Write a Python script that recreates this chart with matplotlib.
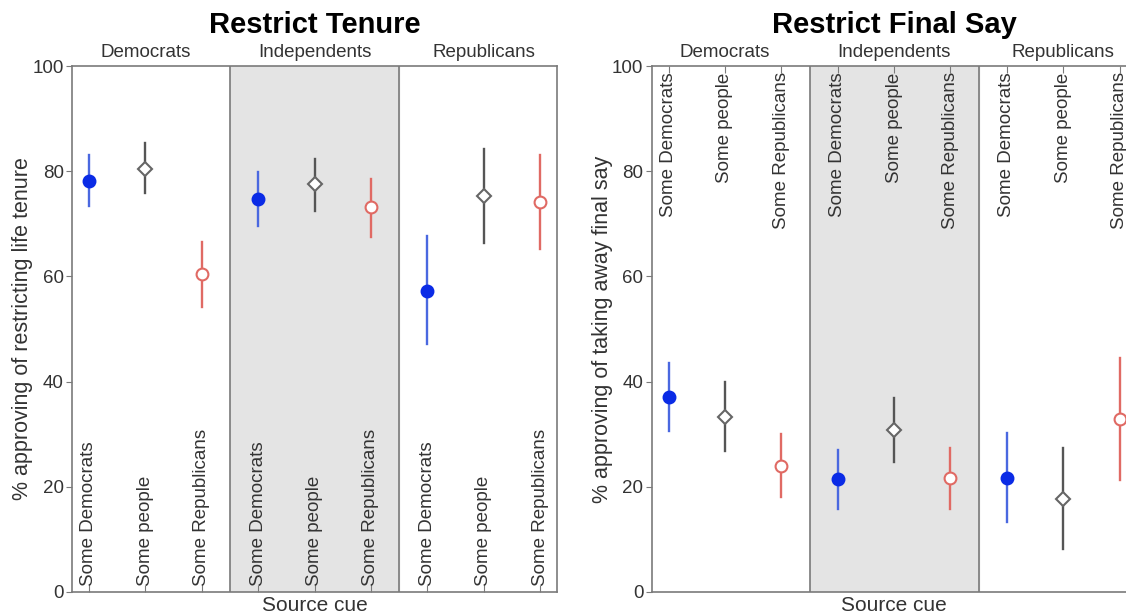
import matplotlib.pyplot as plt
from matplotlib.transforms import blended_transform_factory

plt.rcParams['font.family'] = ['Liberation Sans', 'DejaVu Sans']

groups = ["Democrats", "Independents", "Republicans"]
cues = ["Some Democrats", "Some people", "Some Republicans"]

# Restrict Tenure: estimate, lower CI, upper CI (order: group x cue)
tenure_mean = [78.1, 80.5, 60.4, 74.8, 77.5, 73.1, 57.3, 75.3, 74.2]
tenure_lo = [73.3, 75.8, 54.2, 69.6, 72.4, 67.4, 47.1, 66.4, 65.3]
tenure_hi = [83.0, 85.3, 66.6, 79.9, 82.3, 78.6, 67.7, 84.2, 83.1]

# Restrict Final Say
final_mean = [37.0, 33.3, 24.0, 21.4, 30.8, 21.6, 21.7, 17.7, 32.9]
final_lo = [30.6, 26.8, 18.0, 15.8, 24.7, 15.8, 13.3, 8.2, 21.2]
final_hi = [43.6, 39.9, 30.0, 27.0, 36.9, 27.4, 30.3, 27.4, 44.5]

styles = {
    "Some Democrats": dict(marker='o', mfc='#0a2be6', mec='#0a2be6', bar='#4a68e0'),
    "Some people": dict(marker='D', mfc='white', mec='#666666', bar='#555555'),
    "Some Republicans": dict(marker='o', mfc='white', mec='#e06a64', bar='#e06a64'),
}
spine_col = '#7a7a7a'
text_col = '#333333'


def draw_panel(ax, means, lo, hi, title, ylabel, labels_top):
    ax.set_xlim(-0.3, 8.3)
    ax.set_ylim(0, 100)
    ax.axvspan(2.5, 5.5, color='#e4e4e4', zorder=0)
    ax.axvline(2.5, color=spine_col, lw=1.2, zorder=1)
    ax.axvline(5.5, color=spine_col, lw=1.2, zorder=1)
    for i in range(9):
        st = styles[cues[i % 3]]
        ms = 7.5 if st['marker'] == 'D' else 8.5
        ax.plot([i, i], [lo[i], hi[i]], color=st['bar'], lw=1.7, zorder=2)
        ax.plot(i, means[i], marker=st['marker'], ms=ms, mfc=st['mfc'],
                mec=st['mec'], mew=1.5, zorder=3, linestyle='none')
    trans = blended_transform_factory(ax.transData, ax.transAxes)
    for i in range(9):
        if labels_top:
            ax.text(i, 0.988, cues[i % 3], rotation=90, ha='center', va='top',
                    fontsize=13.5, color=text_col, transform=trans)
        else:
            ax.text(i, 0.012, cues[i % 3], rotation=90, ha='center', va='bottom',
                    fontsize=13.5, color=text_col, transform=trans)
    for g, name in enumerate(groups):
        ax.text(3 * g + 1, 1.026, name, ha='center', va='center', fontsize=13.5,
                color=text_col, transform=trans)
    ax.text(0.5, 1.078, title, ha='center', va='center', fontsize=21,
            fontweight='bold', transform=ax.transAxes)
    ax.set_xticks(range(9))
    ax.set_xticklabels([])
    if labels_top:
        ax.tick_params(axis='x', bottom=False, top=True, direction='in',
                       length=5, color=spine_col)
    else:
        ax.tick_params(axis='x', direction='in', length=5, color=spine_col)
    ax.set_yticks([0, 20, 40, 60, 80, 100])
    ax.tick_params(axis='y', length=4, color=spine_col, labelsize=13.5,
                   labelcolor=text_col, pad=2)
    for s in ax.spines.values():
        s.set_color(spine_col)
        s.set_linewidth(1.2)
    ax.set_ylabel(ylabel, fontsize=15.5, color=text_col)
    ax.yaxis.set_label_coords(-0.08, 0.5)
    ax.set_xlabel("Source cue", fontsize=15, color=text_col)
    ax.xaxis.set_label_coords(0.5, -0.008)


fig = plt.figure(figsize=(11.26, 6.15), dpi=100)
ax1 = fig.add_axes([72 / 1126, 1 - 592 / 615, 485 / 1126, 526 / 615])
ax2 = fig.add_axes([651.6 / 1126, 1 - 592 / 615, 485 / 1126, 526 / 615])

draw_panel(ax1, tenure_mean, tenure_lo, tenure_hi, "Restrict Tenure",
           "% approving of restricting life tenure", False)
draw_panel(ax2, final_mean, final_lo, final_hi, "Restrict Final Say",
           "% approving of taking away final say", True)

fig.savefig('out.png', dpi=100)
plt.close()
